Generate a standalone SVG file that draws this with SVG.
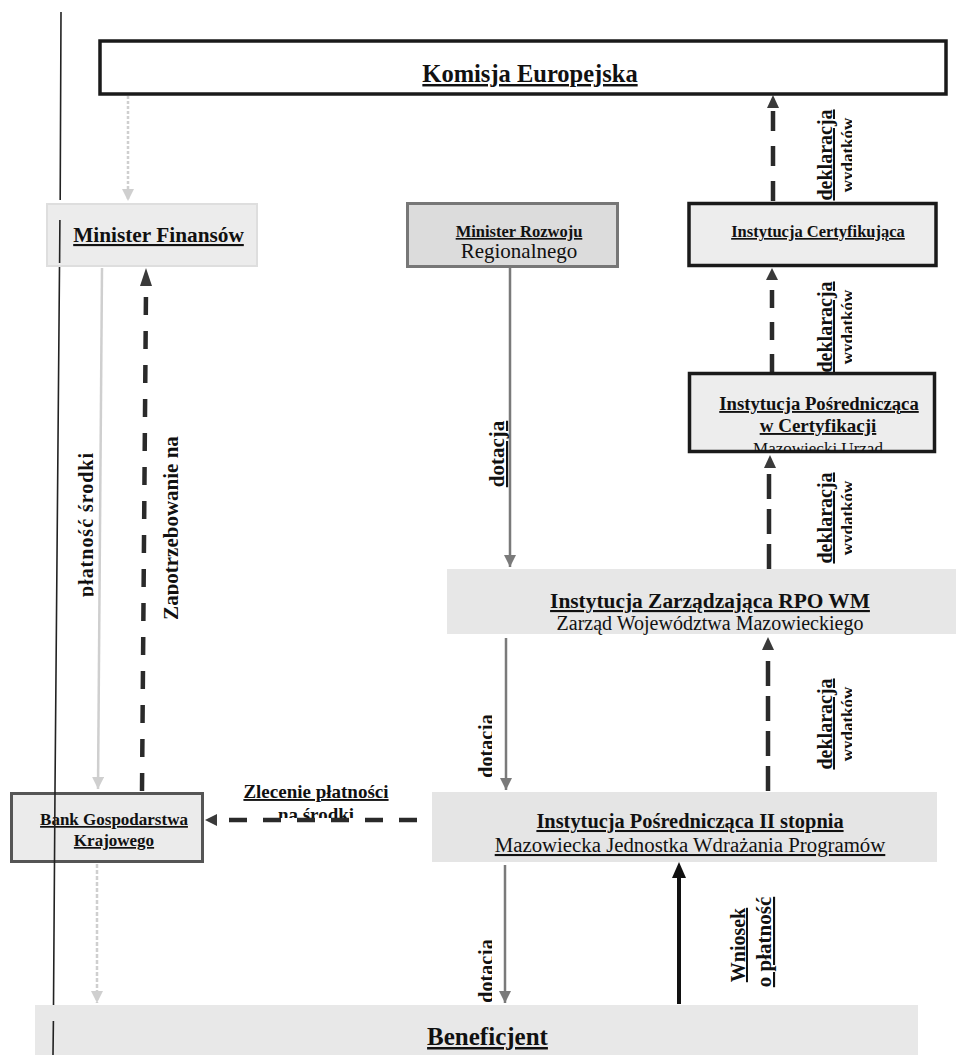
<svg xmlns="http://www.w3.org/2000/svg" width="956" height="1055" viewBox="0 0 956 1055">
<style>
text{font-family:"Liberation Serif","Times New Roman",serif;fill:#111;}
.b{font-weight:bold;}
.u{text-decoration:underline;}
.c{text-anchor:middle;}
.thick{stroke:#1a1a1a;stroke-width:3.5;}
.dash{fill:none;stroke:#2a2a2a;stroke-width:4.5;}
.gray{fill:none;stroke:#7a7a7a;stroke-width:2.5;}
.light{fill:none;stroke:#cfcfcf;stroke-width:2.5;}
</style>
<defs>
<marker id="ag" markerUnits="userSpaceOnUse" markerWidth="14" markerHeight="14" refX="12" refY="6" orient="auto"><path d="M0,0 L12,6 L0,12 Z" fill="#7a7a7a"/></marker>
<marker id="al" markerUnits="userSpaceOnUse" markerWidth="14" markerHeight="14" refX="12" refY="6" orient="auto"><path d="M0,0 L12,6 L0,12 Z" fill="#cfcfcf"/></marker>
<clipPath id="cIPC"><rect x="690" y="374" width="244" height="77"/></clipPath>
<clipPath id="cW1"><rect x="830" y="90" width="22" height="130"/></clipPath>
<clipPath id="cW2"><rect x="830" y="260" width="22" height="130"/></clipPath>
<clipPath id="cW3"><rect x="830" y="450" width="22" height="130"/></clipPath>
<clipPath id="cW4"><rect x="830" y="660" width="22" height="130"/></clipPath>
<clipPath id="cD1"><rect x="460" y="700" width="32" height="90"/></clipPath>
<clipPath id="cD2"><rect x="460" y="920" width="32" height="85"/></clipPath>
<clipPath id="cPS"><rect x="60" y="440" width="33.5" height="170"/></clipPath>
<clipPath id="cZN"><rect x="150" y="420" width="28.5" height="210"/></clipPath>
<clipPath id="cNS"><rect x="220" y="800" width="190" height="18"/></clipPath>
</defs>

<g id="connectors">
  <path class="light" d="M128,96 L128,201" stroke-dasharray="3,2" marker-end="url(#al)"/>
  <path class="light" d="M102,268 L98,789" marker-end="url(#al)"/>
  <path class="light" d="M97,864 L97,1003" stroke-dasharray="4,2" marker-end="url(#al)"/>
  <path class="dash" d="M142,791 L146,290" stroke-dasharray="18,16"/>
  <path d="M146,268 L152,286 L140,286 Z" fill="#3a3a3a"/>
  <path class="dash" d="M417,820 L220,820" stroke-dasharray="18,16"/>
  <path d="M205,820 L217,814 L217,826 Z" fill="#3a3a3a"/>
  <path class="gray" d="M510,268 L510,567" marker-end="url(#ag)"/>
  <path class="gray" d="M506,638 L506,790" marker-end="url(#ag)"/>
  <path class="gray" d="M505,865 L505,1003" marker-end="url(#ag)"/>
  <path d="M679,1004 L679,876" stroke="#111" stroke-width="4" fill="none"/>
  <path d="M679,862 L686,878 L672,878 Z" fill="#111"/>
  <path class="dash" d="M773,201 L773,110" stroke-dasharray="20,15"/>
  <path d="M773,95 L779,108 L767,108 Z" fill="#3a3a3a"/>
  <path class="dash" d="M772,372 L772,281" stroke-dasharray="18,14"/>
  <path d="M772,268 L778,280 L766,280 Z" fill="#3a3a3a"/>
  <path class="dash" d="M769,569 L769,470" stroke-dasharray="25,10"/>
  <path d="M770,455 L776,468 L764,468 Z" fill="#3a3a3a"/>
  <path class="dash" d="M768,791 L768,652" stroke-dasharray="25,10"/>
  <path d="M768,637 L774,650 L762,650 Z" fill="#3a3a3a"/>

  <text class="b u c" font-size="20" transform="translate(832,155) rotate(-90)">deklaracja</text>
  <g clip-path="url(#cW1)"><text class="b c" font-size="17" transform="translate(853,155) rotate(-90)">wydatków</text></g>
  <text class="b u c" font-size="20" transform="translate(832,327) rotate(-90)">deklaracja</text>
  <g clip-path="url(#cW2)"><text class="b c" font-size="17" transform="translate(853,327) rotate(-90)">wydatków</text></g>
  <text class="b u c" font-size="20" transform="translate(832,518) rotate(-90)">deklaracja</text>
  <g clip-path="url(#cW3)"><text class="b c" font-size="17" transform="translate(853,518) rotate(-90)">wydatków</text></g>
  <text class="b u c" font-size="20" transform="translate(832,724) rotate(-90)">deklaracja</text>
  <g clip-path="url(#cW4)"><text class="b c" font-size="17" transform="translate(853,724) rotate(-90)">wydatków</text></g>

  <text class="b u c" font-size="21" transform="translate(504,454) rotate(-90)">dotacja</text>
  <g clip-path="url(#cD1)"><text class="b c" font-size="20" transform="translate(493,746) rotate(-90)">dotacja</text></g>
  <g clip-path="url(#cD2)"><text class="b c" font-size="20" transform="translate(493,971) rotate(-90)">dotacja</text></g>

  <g clip-path="url(#cPS)"><text class="b c" font-size="20" textLength="144" transform="translate(93,525) rotate(-90)">płatność  środki</text></g>
  <g clip-path="url(#cZN)"><text class="b c" font-size="21" transform="translate(178,528) rotate(-90)">Zapotrzebowanie na</text></g>

  <text class="b u c" font-size="19" x="316" y="798">Zlecenie płatności</text>
  <g clip-path="url(#cNS)"><text class="b u c" font-size="19" x="316" y="821">na środki</text></g>

  <text class="b u c" font-size="20" transform="translate(745,945) rotate(-90)">Wniosek</text>
  <text class="b u c" font-size="21" transform="translate(771,942) rotate(-90)">o płatność</text>
</g>

<g id="komisja">
  <rect x="100" y="41" width="846" height="53" fill="#fff" class="thick"/>
  <text class="b u c" font-size="24.5" x="530" y="82">Komisja Europejska</text>
</g>

<g id="minister-finansow">
  <rect x="47" y="204" width="210" height="62" fill="#ececec" stroke="#dedede" stroke-width="2"/>
  <text class="b u c" font-size="21.3" x="158.5" y="242">Minister Finansów</text>
</g>

<g id="minister-rozwoju">
  <rect x="407.5" y="203.5" width="210" height="63" fill="#dcdcdc" stroke="#777" stroke-width="3"/>
  <text class="b u c" font-size="16.5" x="519" y="237">Minister Rozwoju</text>
  <text class="c" font-size="21" x="519" y="258">Regionalnego</text>
</g>

<g id="instytucja-certyfikujaca">
  <rect x="689" y="203.5" width="247" height="62" fill="#ededed" class="thick"/>
  <text class="b u c" font-size="16.5" x="818" y="237">Instytucja Certyfikująca</text>
</g>

<g id="ip-certyfikacji">
  <rect x="689.5" y="373.5" width="245" height="78" fill="#ededed" class="thick"/>
  <text class="b u c" font-size="18.7" x="819" y="410">Instytucja Pośrednicząca</text>
  <text class="b u c" font-size="19" x="818" y="432">w Certyfikacji</text>
  <g clip-path="url(#cIPC)"><text class="c" font-size="17" x="818" y="454">Mazowiecki Urząd</text></g>
</g>

<g id="instytucja-zarzadzajaca">
  <rect x="447" y="569" width="509" height="65" fill="#e7e7e7"/>
  <text class="b u c" font-size="21.4" x="710" y="608">Instytucja Zarządzająca RPO WM</text>
  <text class="c" font-size="20" x="710" y="630">Zarząd Województwa Mazowieckiego</text>
</g>

<g id="ip-ii-stopnia">
  <rect x="432" y="792" width="505" height="70" fill="#e5e5e5"/>
  <text class="b u c" font-size="20.4" x="690" y="828">Instytucja Pośrednicząca II stopnia</text>
  <text class="u c" font-size="20.8" x="690" y="852">Mazowiecka Jednostka Wdrażania Programów</text>
</g>

<g id="bgk">
  <rect x="11.5" y="793.5" width="191" height="68" fill="#ebebeb" stroke="#555" stroke-width="3"/>
  <text class="b u c" font-size="17" x="114" y="825">Bank Gospodarstwa</text>
  <text class="b u c" font-size="17" x="114" y="846">Krajowego</text>
</g>

<g id="beneficjent">
  <rect x="35" y="1005" width="883" height="55" fill="#e8e8e8"/>
  <text class="b u c" font-size="25" x="487.5" y="1045">Beneficjent</text>
</g>

<g id="margin-line">
  <path d="M61,12 L60.2,200 M59.9,220 L59.6,263 M59.5,267 L55,790 L53.5,1005 M53.4,1021 L53,1055" stroke="#222" stroke-width="1.6" fill="none"/>
</g>
</svg>
